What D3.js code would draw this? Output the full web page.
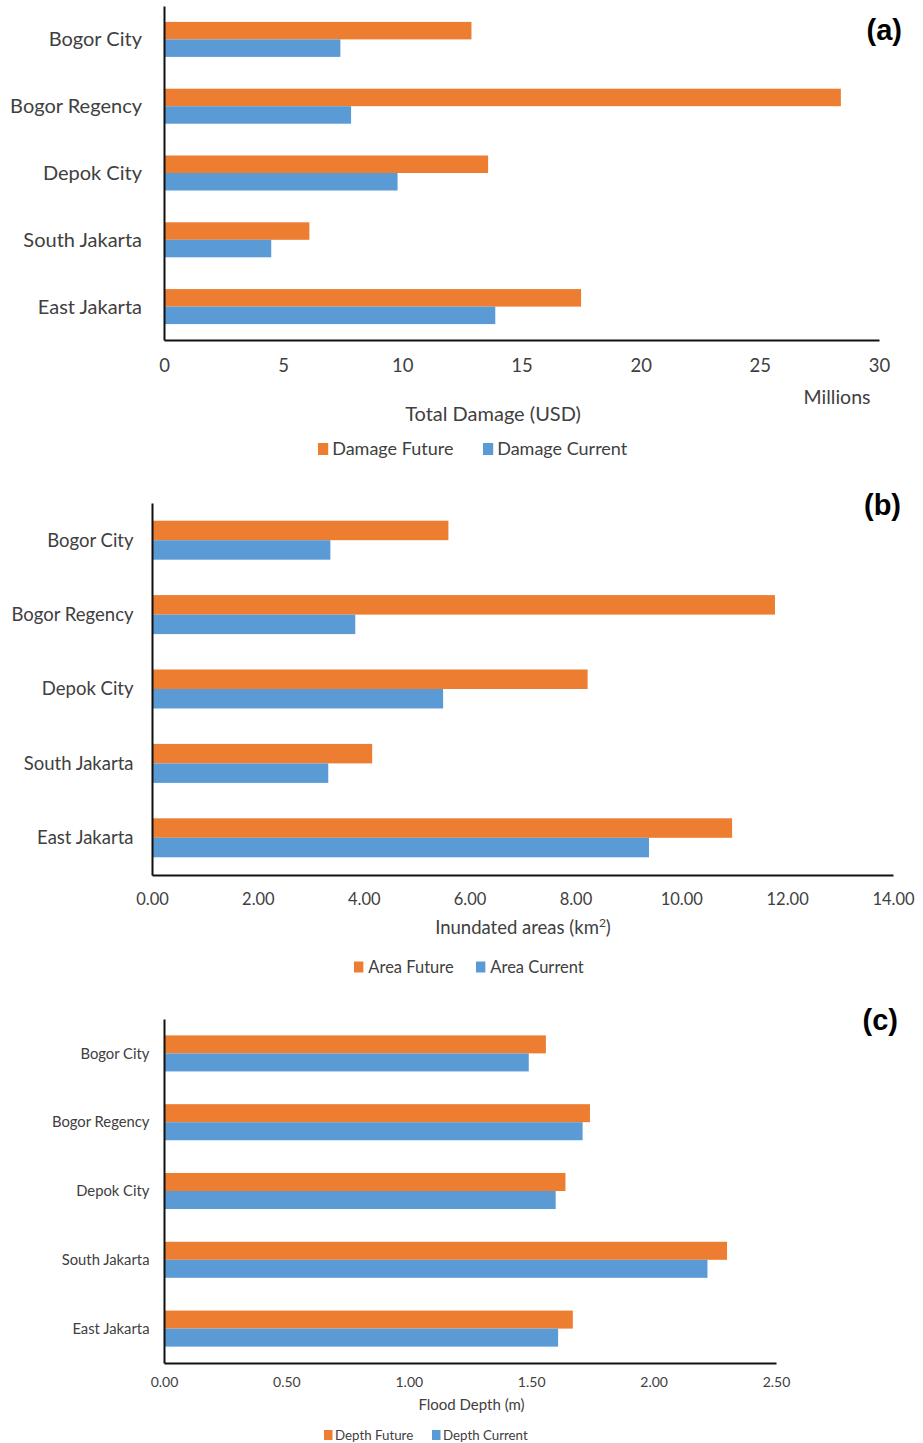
<!DOCTYPE html>
<html>
<head>
<meta charset="utf-8">
<script src="https://cdn.jsdelivr.net/npm/d3@7"></script>
<style>
  html, body { margin: 0; padding: 0; background: #fff; }
  svg { display: block; }
</style>
</head>
<body>
<svg id="chart" width="923" height="1443"></svg>
<script>
// ---------------- DATA ----------------
const categories = ["Bogor City", "Bogor Regency", "Depok City", "South Jakarta", "East Jakarta"];

const damageFuture  = [12.9, 28.4, 13.6, 6.1, 17.5];   // millions USD
const damageCurrent = [7.4, 7.85, 9.8, 4.5, 13.9];
const damageTicks   = [0, 5, 10, 15, 20, 25, 30];

const areaFuture  = [5.6, 11.77, 8.23, 4.16, 10.96];   // km2
const areaCurrent = [3.37, 3.84, 5.5, 3.33, 9.39];
const areaTicks   = [0, 2, 4, 6, 8, 10, 12, 14];

const depthFuture  = [1.56, 1.74, 1.64, 2.30, 1.67];  // m
const depthCurrent = [1.49, 1.71, 1.60, 2.22, 1.61];
const depthTicks   = [0, 0.5, 1.0, 1.5, 2.0, 2.5];

const seriesNames = {
  a: ["Damage Future", "Damage Current"],
  b: ["Area Future", "Area Current"],
  c: ["Depth Future", "Depth Current"]
};

// ---------------- STYLE ----------------
const ORANGE = "#ED7D31";
const BLUE = "#5B9BD5";
const TEXT = "#404040";
const FONT = "Lato, 'Open Sans', sans-serif";

const svg = d3.select("#chart");

function drawPanel(cfg) {
  const g = svg.append("g");
  const x = d3.scaleLinear().domain(cfg.domain).range([cfg.x0, cfg.x1]);
  const y = d3.scaleBand().domain(categories).range([cfg.yTop, cfg.yAxis])
    .paddingInner(0.476).paddingOuter(0.238);
  const bh = y.bandwidth() / 2;

  const rows = categories.map((c, i) => ({ c, f: cfg.future[i], cur: cfg.current[i] }));

  // bars
  g.selectAll("rect.fut").data(rows).join("rect")
    .attr("x", x(0)).attr("y", d => y(d.c))
    .attr("width", d => x(d.f) - x(0)).attr("height", bh)
    .attr("fill", ORANGE);
  g.selectAll("rect.cur").data(rows).join("rect")
    .attr("x", x(0)).attr("y", d => y(d.c) + bh)
    .attr("width", d => x(d.cur) - x(0)).attr("height", bh)
    .attr("fill", BLUE);

  // x axis
  const xa = g.append("g").attr("transform", `translate(0,${cfg.yAxis})`)
    .call(d3.axisBottom(x).tickValues(cfg.ticks).tickFormat(cfg.fmt).tickSize(0).tickSizeOuter(0));
  xa.select(".domain").attr("stroke", "#111").attr("stroke-width", 2);
  xa.selectAll("text").attr("y", cfg.tickOff).attr("dy", "0.35em")
    .attr("fill", TEXT).style("font-family", FONT).style("font-size", cfg.tickSize + "px");

  // y axis
  const ya = g.append("g").attr("transform", `translate(${cfg.x0},0)`)
    .call(d3.axisLeft(y).tickSize(0).tickSizeOuter(0).tickPadding(cfg.labelPad));
  ya.select(".domain").attr("stroke", "#111").attr("stroke-width", 2);
  ya.selectAll("text").attr("fill", TEXT).attr("dy", "0.35em")
    .style("font-family", FONT).style("font-size", cfg.labelSize + "px");

  // axis title
  const t = g.append("text").attr("x", cfg.titleX).attr("y", cfg.titleY).attr("dy", "0.35em")
    .attr("text-anchor", "middle").attr("fill", TEXT)
    .style("font-family", FONT).style("font-size", cfg.titleSize + "px");
  if (cfg.superTitle) {
    t.append("tspan").text(cfg.title[0]);
    t.append("tspan").text(cfg.title[1]).attr("baseline-shift", "super").style("font-size", (cfg.titleSize * 0.65) + "px");
    t.append("tspan").text(cfg.title[2]);
  } else {
    t.text(cfg.title);
  }

  if (cfg.unitLabel) {
    g.append("text").attr("x", cfg.unitX).attr("y", cfg.unitY).attr("dy", "0.35em")
      .attr("text-anchor", "middle").attr("fill", TEXT)
      .style("font-family", FONT).style("font-size", cfg.unitSize + "px")
      .text(cfg.unitLabel);
  }

  // legend
  const leg = g.append("g");
  cfg.names.forEach((n, i) => {
    const lx = cfg.legendX[i];
    leg.append("rect").attr("x", lx).attr("y", cfg.legendY - cfg.sw / 2)
      .attr("width", cfg.sw * 0.85).attr("height", cfg.sw)
      .attr("fill", i === 0 ? ORANGE : BLUE);
    leg.append("text").attr("x", lx + cfg.sw * 0.85 + cfg.gap).attr("y", cfg.legendY).attr("dy", "0.35em")
      .attr("fill", TEXT).style("font-family", FONT).style("font-size", cfg.legendSize + "px")
      .text(n);
  });

  // panel letter
  g.append("text").attr("x", cfg.letterX).attr("y", cfg.letterY).attr("dy", "0.35em")
    .attr("text-anchor", "end").attr("fill", "#000")
    .style("font-family", "'Liberation Sans', Arial, sans-serif").style("font-weight", "bold")
    .style("font-size", "29px").text(cfg.letter);
}

drawPanel({
  future: damageFuture, current: damageCurrent, ticks: damageTicks,
  domain: [0, 30], fmt: d3.format("d"),
  x0: 164, x1: 879, yTop: 6, yAxis: 340,
  tickOff: 26, tickSize: 18.5, labelPad: 22, labelSize: 20,
  title: "Total Damage (USD)", titleX: 493, titleY: 414, titleSize: 20,
  unitLabel: "Millions", unitX: 837, unitY: 397, unitSize: 19.5,
  names: seriesNames.a, legendX: [318, 483], legendY: 449, sw: 12, gap: 4, legendSize: 18,
  letter: "(a)", letterX: 902, letterY: 30
});

drawPanel({
  future: areaFuture, current: areaCurrent, ticks: areaTicks,
  domain: [0, 14], fmt: d3.format(".2f"),
  x0: 152, x1: 893, yTop: 503, yAxis: 875,
  tickOff: 24, tickSize: 16.5, labelPad: 18.5, labelSize: 18.5,
  superTitle: true, title: ["Inundated areas (km", "2", ")"], titleX: 523, titleY: 928, titleSize: 18.5,
  names: seriesNames.b, legendX: [354, 476], legendY: 967, sw: 11, gap: 5, legendSize: 16.5,
  letter: "(b)", letterX: 901, letterY: 505
});

drawPanel({
  future: depthFuture, current: depthCurrent, ticks: depthTicks,
  domain: [0, 2.5], fmt: d3.format(".2f"),
  x0: 164, x1: 776, yTop: 1019, yAxis: 1363,
  tickOff: 19, tickSize: 14, labelPad: 14.5, labelSize: 14.8,
  title: "Flood Depth (m)", titleX: 471.5, titleY: 1405, titleSize: 15,
  names: seriesNames.c, legendX: [324, 432], legendY: 1435, sw: 10, gap: 2.5, legendSize: 13.3,
  letter: "(c)", letterX: 898, letterY: 1020
});
</script>
</body>
</html>
